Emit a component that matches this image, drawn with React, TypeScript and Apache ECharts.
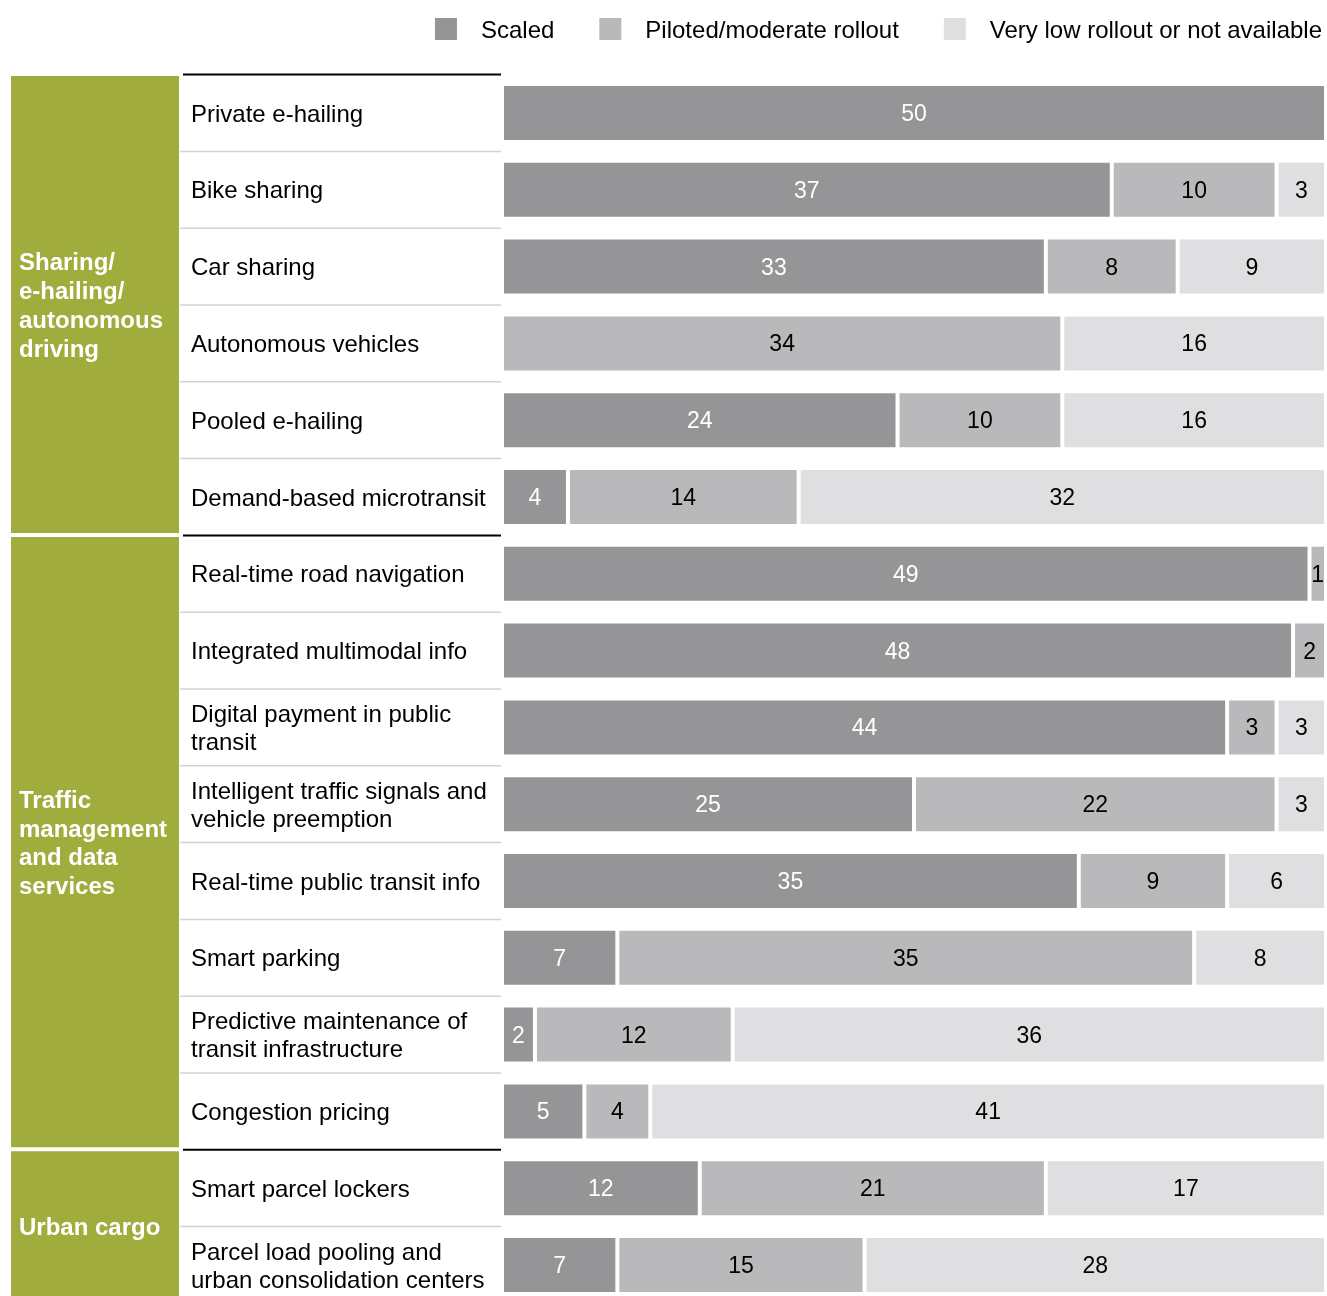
import React, { useEffect, useRef } from "react";
import * as echarts from "echarts";

const categories = [
  "Private e-hailing",
  "Bike sharing",
  "Car sharing",
  "Autonomous vehicles",
  "Pooled e-hailing",
  "Demand-based microtransit",
  "Real-time road navigation",
  "Integrated multimodal info",
  "Digital payment in public\ntransit",
  "Intelligent traffic signals and\nvehicle preemption",
  "Real-time public transit info",
  "Smart parking",
  "Predictive maintenance of\ntransit infrastructure",
  "Congestion pricing",
  "Smart parcel lockers",
  "Parcel load pooling and\nurban consolidation centers",
];

const scaled = [50, 37, 33, 0, 24, 4, 49, 48, 44, 25, 35, 7, 2, 5, 12, 7];
const piloted = [0, 10, 8, 34, 10, 14, 1, 2, 3, 22, 9, 35, 12, 4, 21, 15];
const veryLow = [0, 3, 9, 16, 16, 32, 0, 0, 3, 3, 6, 8, 36, 41, 17, 28];

const seriesNames = ["Scaled", "Piloted/moderate rollout", "Very low rollout or not available"];

const groupNames = [
  "Sharing/\ne-hailing/\nautonomous\ndriving",
  "Traffic\nmanagement\nand data\nservices",
  "Urban cargo",
];
const groupSizes = [6, 8, 2];

const COLORS = ["#959597", "#b9b9bb", "#dfdfe1"];
const GREEN = "#a0ad3c";
const FONT = "'Liberation Sans', Arial, sans-serif";

const TOP = 74.6;
const ROW = 76.8;
const GRID_LEFT = 502;

export default function App() {
  const ref = useRef<HTMLDivElement>(null);

  useEffect(() => {
    if (!ref.current) return;
    const chart = echarts.init(ref.current, null, { renderer: "svg" });

    const graphics: any[] = [];
    const groupStarts: number[] = [];
    let acc = 0;
    groupSizes.forEach((s) => {
      groupStarts.push(acc);
      acc += s;
    });
    for (let k = 0; k < categories.length; k++) {
      const y = TOP + k * ROW;
      if (groupStarts.includes(k)) {
        graphics.push({
          type: "line",
          shape: { x1: 183, y1: y, x2: 501, y2: y },
          style: { stroke: "#000", lineWidth: 2 },
        });
      } else {
        graphics.push({
          type: "line",
          shape: { x1: 180, y1: y, x2: 501, y2: y },
          style: { stroke: "#d2d2d2", lineWidth: 1.5 },
        });
      }
    }
    groupSizes.forEach((s, i) => {
      const y0 = TOP + groupStarts[i] * ROW;
      const y1 = y0 + s * ROW;
      graphics.push({
        type: "rect",
        shape: { x: 11, y: y0 + 1.5, width: 168, height: y1 - y0 - 4 },
        style: { fill: GREEN },
      });
      graphics.push({
        type: "text",
        x: 19,
        y: (y0 + y1) / 2,
        style: {
          text: groupNames[i],
          fill: "#fff",
          font: `bold 24px ${FONT}`,
          lineHeight: 28.7,
          verticalAlign: "middle",
          align: "left",
        },
      });
    });

    const dataArrays = [scaled, piloted, veryLow];

    chart.setOption({
      animation: false,
      textStyle: { fontFamily: FONT },
      legend: {
        data: seriesNames,
        right: 0,
        top: 11,
        itemWidth: 24,
        itemHeight: 24,
        itemGap: 43,
        selectedMode: false,
        icon: "rect",
        textStyle: {
          fontSize: 24,
          color: "#000",
          fontFamily: FONT,
          padding: [0, 0, 0, 18],
        },
      },
      grid: {
        left: GRID_LEFT,
        right: 1,
        top: TOP,
        height: ROW * categories.length,
      },
      xAxis: {
        type: "value",
        min: 0,
        max: 50,
        show: false,
      },
      yAxis: {
        type: "category",
        data: categories,
        inverse: true,
        axisLine: { show: false },
        axisTick: { show: false },
        splitLine: { show: false },
        axisLabel: {
          align: "left",
          margin: GRID_LEFT - 191,
          fontSize: 24,
          lineHeight: 28,
          color: "#000",
          fontFamily: FONT,
        },
      },
      series: dataArrays.map((arr, i) => ({
        name: seriesNames[i],
        type: "bar",
        stack: "total",
        barWidth: 58,
        data: arr,
        itemStyle: { color: COLORS[i], borderColor: "#fff", borderWidth: 2 },
        label: {
          show: true,
          position: "inside",
          fontSize: 23,
          fontFamily: FONT,
          color: i === 0 ? "#fff" : "#000",
          formatter: (p: any) => (p.value ? String(p.value) : ""),
        },
      })),
      graphic: graphics,
    });

    return () => chart.dispose();
  }, []);

  return (
    <div
      ref={ref}
      style={{ position: "fixed", left: 0, top: 0, width: 1327, height: 1304 }}
    />
  );
}
